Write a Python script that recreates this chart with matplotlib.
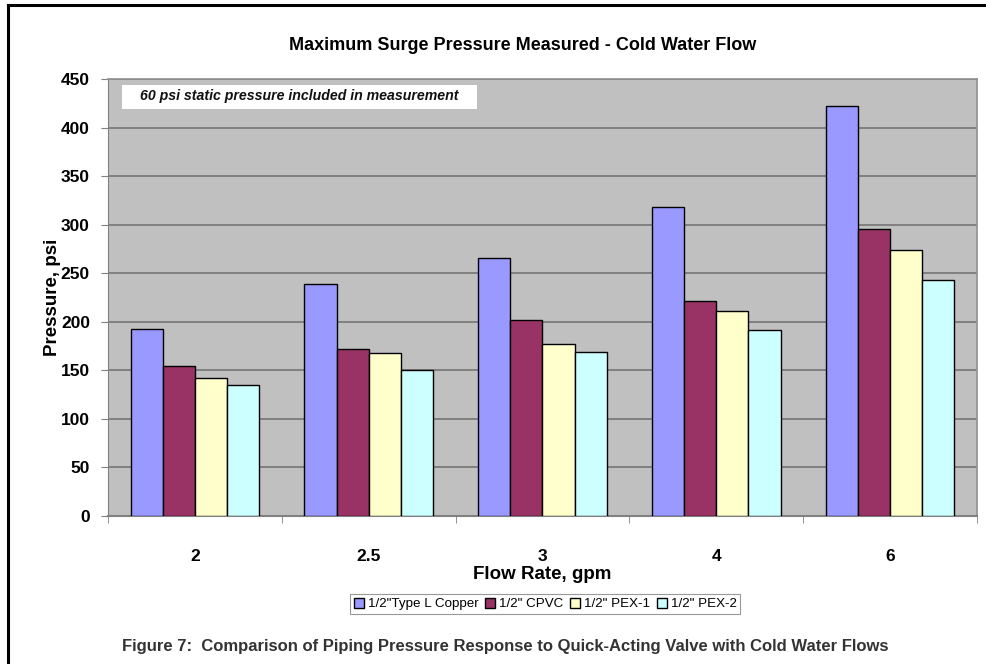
import matplotlib
matplotlib.use("Agg")
import matplotlib.pyplot as plt
import numpy as np
from matplotlib.lines import Line2D

plt.rcParams['font.family'] = ['Liberation Sans', 'DejaVu Sans']

categories = ["2", "2.5", "3", "4", "6"]
series_names = ['1/2"Type L Copper', '1/2" CPVC', '1/2" PEX-1', '1/2" PEX-2']
copper = [193, 239, 266, 318, 422]
cpvc = [154, 172, 202, 221, 296]
pex1 = [142, 168, 177, 211, 274]
pex2 = [135, 150, 169, 192, 243]
colors = ["#9999FF", "#993366", "#FFFFCC", "#CCFFFF"]
yticks = [0, 50, 100, 150, 200, 250, 300, 350, 400, 450]

fig = plt.figure(figsize=(9.87, 6.64), dpi=100)
W, H = 987, 664
ax = fig.add_axes([108 / W, 1 - 516 / H, (977 - 108) / W, (516 - 79) / H])
ax.set_facecolor("#C0C0C0")

x = np.arange(len(categories))
bw = 0.185
data = [copper, cpvc, pex1, pex2]
handles = []
for i, (vals, col) in enumerate(zip(data, colors)):
    b = ax.bar(x + (i - 1.5) * bw, vals, bw, color=col, edgecolor="black",
               linewidth=1.0, zorder=3, label=series_names[i])
    handles.append(b)

ax.set_xlim(-0.5, len(categories) - 0.5)
ax.set_ylim(0, 450)
ax.set_yticks(yticks)
ax.set_yticklabels([str(t) for t in yticks], fontsize=12.5, fontweight="bold")
ax.yaxis.grid(True, color="#808080", linewidth=1.4, zorder=1)
ax.set_axisbelow(True)

ax.set_xticks(x)
ax.set_xticklabels(categories, fontsize=12.5, fontweight="bold")
ax.tick_params(axis="x", length=0, pad=24)
ax.set_xticks(np.arange(-0.5, len(categories), 1.0), minor=True)
ax.tick_params(axis="x", which="minor", length=5, color="#808080")
ax.tick_params(axis="y", length=5, color="#808080", pad=8)

for s in ["top", "right"]:
    ax.spines[s].set_color("#909090")
    ax.spines[s].set_linewidth(1.2)
ax.spines["left"].set_color("#808080")
ax.spines["bottom"].set_color("#808080")
ax.spines["bottom"].set_linewidth(1.5)

ax.set_ylabel("Pressure, psi", fontsize=13.5, fontweight="bold", labelpad=0)
ax.set_xlabel("Flow Rate, gpm", fontsize=13.5, fontweight="bold", labelpad=1)

fig.text(523 / W, 1 - 45 / H, "Maximum Surge Pressure Measured - Cold Water Flow",
         ha="center", va="center", fontsize=13, fontweight="bold")

# annotation box
ax.add_patch(plt.Rectangle((122 / W, 1 - 109 / H), 355 / W, 24 / H,
                           transform=fig.transFigure, clip_on=False,
                           facecolor="white", edgecolor="none", zorder=5))
ax.text(0.037, 0.962, "60 psi static pressure included in measurement",
        transform=ax.transAxes, ha="left", va="center", fontsize=10.2,
        fontweight="bold", fontstyle="italic", color="#111111", zorder=6)

leg = fig.legend(handles=handles, labels=series_names, loc="center",
                 bbox_to_anchor=(545 / W, 1 - 604 / H), ncol=4, fontsize=9.6,
                 frameon=True, fancybox=False, edgecolor="#808080",
                 handlelength=0.75, handleheight=0.75, handletextpad=0.3,
                 columnspacing=0.5, borderpad=0.3)
leg.get_frame().set_linewidth(0.8)

fig.text(505 / W, 1 - 647 / H,
         "Figure 7:  Comparison of Piping Pressure Response to Quick-Acting Valve with Cold Water Flows",
         ha="center", va="center", fontsize=12, fontweight="bold", color="#333333")

# outer frame (top and left)
fig.add_artist(Line2D([8 / W, 1.0], [1 - 5 / H, 1 - 5 / H], transform=fig.transFigure,
                      color="black", linewidth=2.2))
fig.add_artist(Line2D([8 / W, 8 / W], [0, 1 - 5 / H], transform=fig.transFigure,
                      color="black", linewidth=2.2))

fig.savefig("out.png", dpi=100)
